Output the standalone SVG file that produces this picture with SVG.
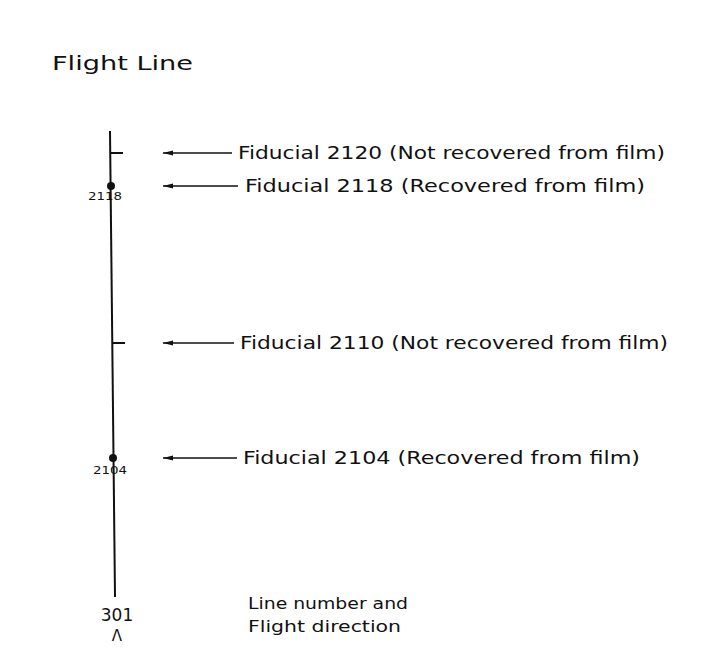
<svg xmlns="http://www.w3.org/2000/svg" width="714" height="671" viewBox="0 0 714 671">
<defs>
<style>
.t{font-family:"DejaVu Sans","Liberation Sans",Arial,sans-serif;fill:#111}
.lab{font-size:17px}
.small{font-size:10px}
.ln{stroke:#111;stroke-width:2;fill:none}
.ar{stroke:#111;stroke-width:1.3;fill:none}
</style>
<marker id="ah" markerWidth="11" markerHeight="8" refX="10" refY="4" orient="auto" markerUnits="userSpaceOnUse">
<path d="M0,1.5 L10,4 L0,6.5 Z" fill="#111"/>
</marker>
</defs>
<rect width="714" height="671" fill="#fff"/>
<text class="t" x="52" y="70" font-size="20" textLength="141" lengthAdjust="spacingAndGlyphs">Flight Line</text>
<g id="flightline">
<line class="ln" x1="110" y1="131" x2="115" y2="597"/>
</g>
<g id="fid2120">
<line class="ln" x1="110.5" y1="153" x2="123" y2="153"/>
<text class="t lab" x="238" y="159" textLength="427" lengthAdjust="spacingAndGlyphs">Fiducial 2120 (Not recovered from film)</text>
</g>
<g id="fid2118">
<circle cx="111" cy="186" r="4" fill="#111"/>
<text class="t small" x="88" y="200" textLength="34" lengthAdjust="spacingAndGlyphs">2118</text>
<text class="t lab" x="245" y="192" textLength="400" lengthAdjust="spacingAndGlyphs">Fiducial 2118 (Recovered from film)</text>
</g>
<g id="fid2110">
<line class="ln" x1="112" y1="343" x2="125" y2="343"/>
<text class="t lab" x="240" y="349" textLength="428" lengthAdjust="spacingAndGlyphs">Fiducial 2110 (Not recovered from film)</text>
</g>
<g id="fid2104">
<circle cx="113" cy="458" r="4" fill="#111"/>
<text class="t small" x="93" y="474" textLength="34" lengthAdjust="spacingAndGlyphs">2104</text>
<text class="t lab" x="243" y="464" textLength="397" lengthAdjust="spacingAndGlyphs">Fiducial 2104 (Recovered from film)</text>
</g>
<g id="line301">
<text class="t" x="117" y="621" font-size="17" text-anchor="middle">301</text>
<text class="t" x="117" y="641" font-size="15" text-anchor="middle">Λ</text>
<text class="t" x="248" y="609" font-size="16" textLength="160" lengthAdjust="spacingAndGlyphs">Line number and</text>
<text class="t" x="248" y="632" font-size="16" textLength="153" lengthAdjust="spacingAndGlyphs">Flight direction</text>
</g>
<g id="connectors">
<line class="ar" x1="232" y1="153" x2="163" y2="153" marker-end="url(#ah)"/>
<line class="ar" x1="238" y1="186" x2="163" y2="186" marker-end="url(#ah)"/>
<line class="ar" x1="234" y1="343" x2="163" y2="343" marker-end="url(#ah)"/>
<line class="ar" x1="237" y1="458" x2="163" y2="458" marker-end="url(#ah)"/>
</g>
</svg>
